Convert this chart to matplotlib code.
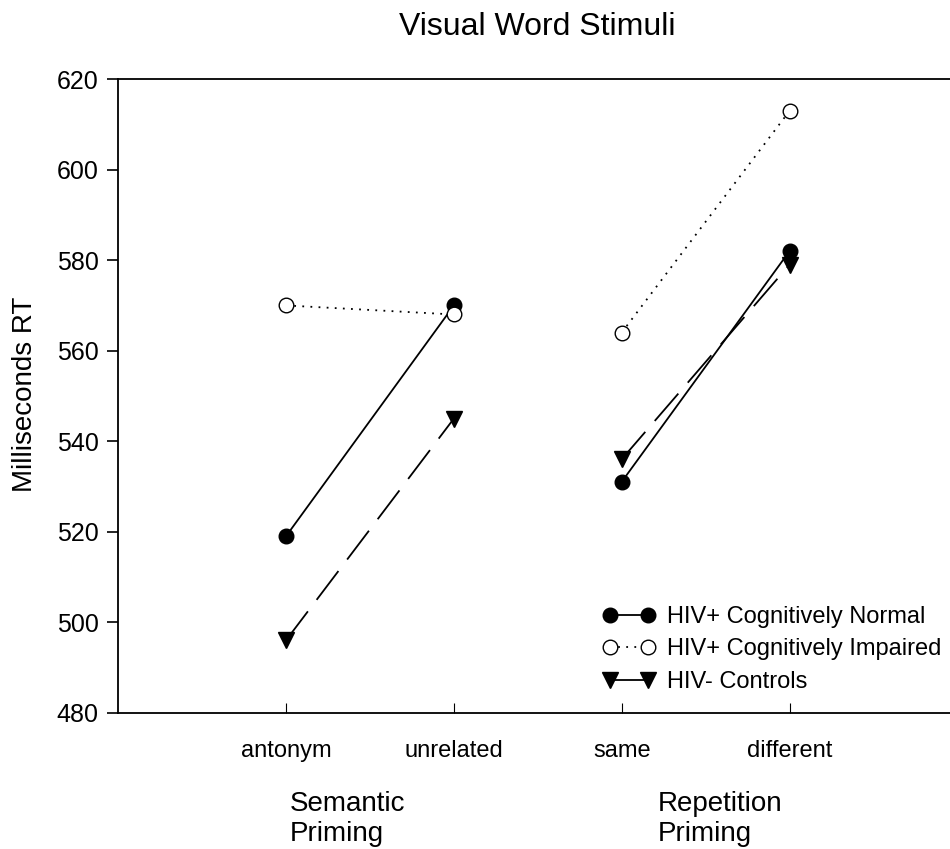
import numpy as np
import matplotlib
matplotlib.use("Agg")
import matplotlib.pyplot as plt

# data
conditions = ["antonym", "unrelated", "same", "different"]
semantic = [0, 1]       # indices of the semantic priming pair
repetition = [2, 3]     # indices of the repetition priming pair
cog_normal = [519, 570, 531, 582]
cog_impaired = [570, 568, 564, 613]
controls = [496, 545, 536, 579]

y_ticks = [480, 500, 520, 540, 560, 580, 600, 620]
group_labels = ["Semantic\nPriming", "Repetition\nPriming"]

plt.rcParams['font.family'] = ['Liberation Sans', 'DejaVu Sans']


def draw_series(ax, values, style, label):
    x = np.arange(1, len(values) + 1)
    v = np.array(values)
    for k, pair in enumerate([semantic, repetition]):
        ax.plot(x[pair], v[pair], label=label if k == 0 else None, **style)


def main():
    fig = plt.figure(figsize=(9.5, 8.49), dpi=100)
    W, H = 950, 849
    left, right = 118.3, 118.3 + 5 * 167.8
    top, bottom = 79.3, 712.5
    ax = fig.add_axes([left / W, 1 - bottom / H, (right - left) / W, (bottom - top) / H])

    normal_style = dict(color='black', lw=1.3, marker='o', markersize=10.5,
                        markerfacecolor='black', markeredgecolor='black')
    impaired_style = dict(color='black', lw=1.3, ls=(0, (1, 3.5)), marker='o',
                          markersize=10.5, markerfacecolor='white',
                          markeredgecolor='black', markeredgewidth=1.0)
    control_style = dict(color='black', lw=1.3, ls=(0, (20, 8)), marker='v',
                         markersize=11, markerfacecolor='black',
                         markeredgecolor='black')

    draw_series(ax, cog_normal, normal_style, "HIV+ Cognitively Normal")
    draw_series(ax, cog_impaired, impaired_style, "HIV+ Cognitively Impaired")
    draw_series(ax, controls, control_style, "HIV- Controls")

    ax.set_xlim(0, 5)
    ax.set_ylim(480, 620)
    ax.set_yticks(y_ticks)
    ax.set_xticks(np.arange(1, len(conditions) + 1))
    ax.set_xticklabels(conditions, fontsize=17)
    ax.tick_params(axis='y', direction='out', length=8, width=1.2, labelsize=18, pad=6)
    ax.tick_params(axis='x', direction='in', length=7, width=0.8, pad=20)
    ax.spines['right'].set_visible(False)
    for s in ['left', 'top', 'bottom']:
        ax.spines[s].set_linewidth(1.3)

    ax.legend(loc='upper left', bbox_to_anchor=(591 / W, 1 - 594 / H),
              bbox_transform=fig.transFigure, frameon=False, numpoints=2,
              handlelength=2.2, handletextpad=0.5, labelspacing=0.45,
              borderpad=0, fontsize=17)

    fig.text(537 / W, 1 - 27 / H, "Visual Word Stimuli", ha='center', va='center', fontsize=23)
    fig.text(25 / W, 1 - 394 / H, "Milliseconds RT", ha='center', va='center',
             rotation=90, fontsize=20)
    fig.text(290 / W, 1 - 819 / H, group_labels[0], ha='left', va='center',
             fontsize=20, linespacing=1.2)
    fig.text(658 / W, 1 - 819 / H, group_labels[1], ha='left', va='center',
             fontsize=20, linespacing=1.2)

    fig.savefig("out.png", dpi=100)


if __name__ == "__main__":
    main()
